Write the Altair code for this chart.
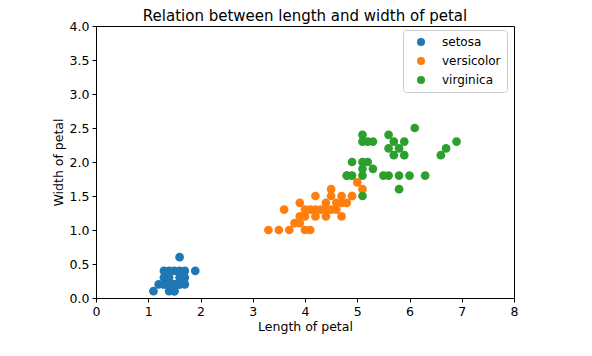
import altair as alt
import pandas as pd

# Petal (length, width) readings per species
setosa_len = [1.1, 1.2, 1.3, 1.3, 1.4, 1.4, 1.4, 1.5, 1.5, 1.5, 1.6, 1.6, 1.7, 1.3, 1.4, 1.6, 1.7, 1.5, 1.6, 1.7, 1.3, 1.6, 1.9, 1.4, 1.5]
setosa_wid = [0.1, 0.2, 0.2, 0.3, 0.2, 0.1, 0.3, 0.2, 0.1, 0.4, 0.2, 0.4, 0.4, 0.4, 0.4, 0.3, 0.3, 0.2, 0.2, 0.2, 0.2, 0.6, 0.4, 0.2, 0.1]

versicolor_len = [3.3, 3.5, 3.7, 4.0, 3.6, 3.9, 4.2, 4.5, 4.5, 4.7, 4.9, 4.4, 4.6, 4.7, 4.8, 4.0, 4.1, 4.2, 4.3, 4.4, 4.5, 4.6,
                  3.9, 4.2, 4.4, 4.7, 3.8, 3.9, 5.0, 5.1, 4.8, 4.9, 4.0, 4.1]
versicolor_wid = [1.0, 1.0, 1.0, 1.0, 1.3, 1.4, 1.5, 1.6, 1.5, 1.5, 1.5, 1.4, 1.4, 1.4, 1.4, 1.3, 1.3, 1.3, 1.3, 1.3, 1.3, 1.3,
                  1.2, 1.2, 1.2, 1.2, 1.1, 1.1, 1.7, 1.6, 1.8, 1.5, 1.2, 1.0]

virginica_len = [6.1, 5.1, 5.6, 5.1, 5.2, 5.3, 5.7, 5.9, 5.6, 5.8, 5.7, 5.9, 6.9, 6.7, 6.6, 4.9, 5.1, 5.2, 5.1, 5.3,
                 4.8, 4.9, 5.1, 5.5, 5.6, 5.8, 6.0, 6.3, 5.8, 5.1]
virginica_wid = [2.5, 2.4, 2.4, 2.3, 2.3, 2.3, 2.3, 2.3, 2.2, 2.2, 2.1, 2.1, 2.3, 2.2, 2.1, 2.0, 2.0, 2.0, 1.9, 1.9,
                 1.8, 1.8, 1.8, 1.8, 1.8, 1.8, 1.8, 1.8, 1.6, 1.5]

species = ["setosa", "versicolor", "virginica"]
colors = ["#1f77b4", "#ff7f0e", "#2ca02c"]

rows = []
for name, xs, ys in [("setosa", setosa_len, setosa_wid),
                     ("versicolor", versicolor_len, versicolor_wid),
                     ("virginica", virginica_len, virginica_wid)]:
    for a, b in zip(xs, ys):
        rows.append({"length": a, "width": b, "species": name})
df = pd.DataFrame(rows)

x_ticks = [0, 1, 2, 3, 4, 5, 6, 7, 8]
y_ticks = [0.0, 0.5, 1.0, 1.5, 2.0, 2.5, 3.0, 3.5, 4.0]

font = "DejaVu Sans"

chart = alt.Chart(df).mark_circle(size=76, opacity=1).encode(
    x=alt.X("length:Q", title="Length of petal",
            scale=alt.Scale(domain=[0, 8], nice=False, zero=False),
            axis=alt.Axis(values=x_ticks, grid=False, tickSize=4, tickColor="black",
                          domainColor="black", labelColor="black", labelFontSize=12.5,
                          labelFont=font, titleFont=font, titleFontSize=12.5,
                          titleFontWeight="normal", titleColor="black", titlePadding=3,
                          labelPadding=3, labelFlush=False)),
    y=alt.Y("width:Q", title="Width of petal",
            scale=alt.Scale(domain=[0, 4], nice=False, zero=False),
            axis=alt.Axis(values=y_ticks, format=".1f", grid=False, tickSize=4, tickColor="black",
                          domainColor="black", labelColor="black", labelFontSize=12.5,
                          labelFont=font, titleFont=font, titleFontSize=12.5,
                          titleFontWeight="normal", titleColor="black", titlePadding=4,
                          labelPadding=3, labelFlush=False)),
    color=alt.Color("species:N", scale=alt.Scale(domain=species, range=colors),
                    legend=alt.Legend(title=None, orient="none", legendX=307, legendY=4,
                                      fillColor="white", strokeColor="#cccccc", cornerRadius=3,
                                      padding=6, symbolType="circle", symbolSize=64,
                                      labelFontSize=12, labelFont=font, labelColor="black",
                                      rowPadding=7, labelOffset=15, symbolOffset=6)),
).properties(
    width=418, height=272,
    title=alt.Title("Relation between length and width of petal", font=font, fontSize=15,
                    fontWeight="normal", color="black", offset=-4),
    autosize=alt.AutoSizeParams(type="none"),
    padding={"left": 88, "top": 18, "right": 70, "bottom": 50},
).configure_view(stroke="black", strokeWidth=1)

chart.save("out.html", embed_options={"renderer": "svg", "actions": False})
